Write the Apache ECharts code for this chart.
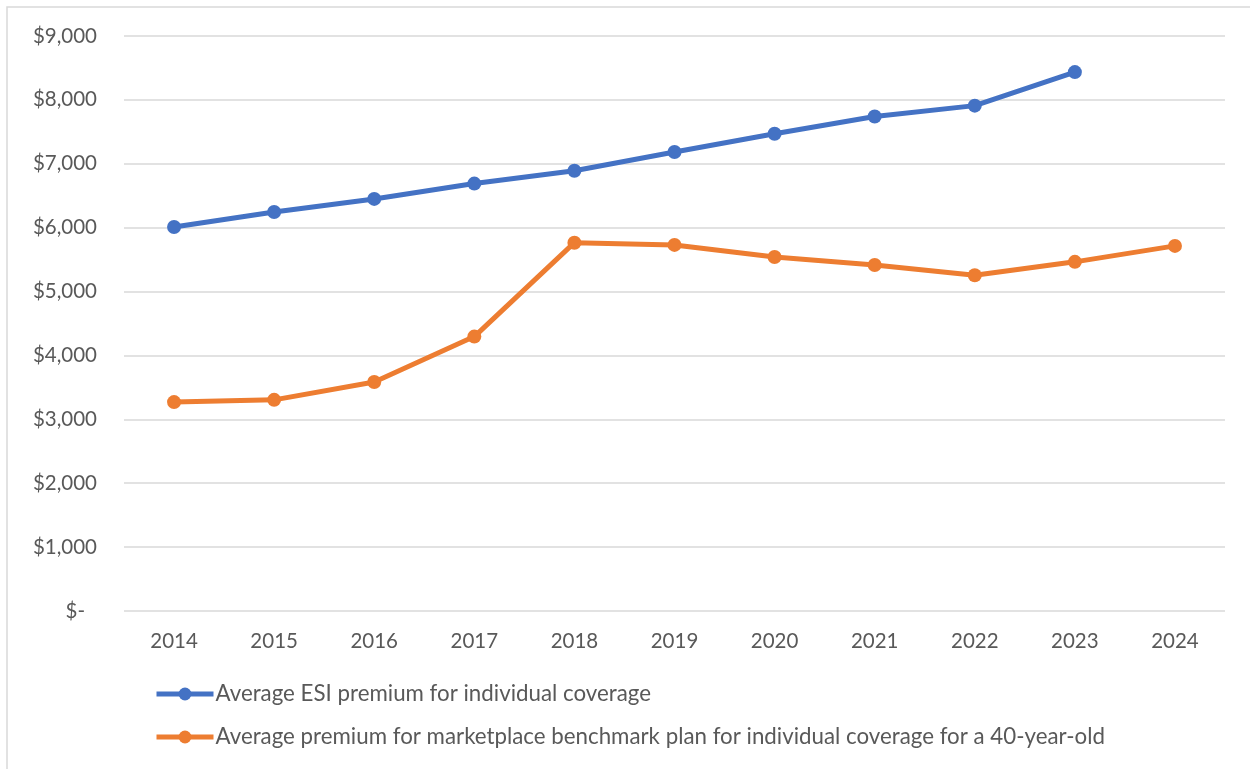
<!DOCTYPE html>
<html><head><meta charset="utf-8">
<script src="https://cdn.jsdelivr.net/npm/echarts@6/dist/echarts.min.js"></script>
<style>html,body{margin:0;padding:0;background:#fff}#c{width:1250px;height:769px}</style>
</head><body><div id="c"></div>
<script>
const years = ['2014','2015','2016','2017','2018','2019','2020','2021','2022','2023','2024'];
const esiPremium = [6010, 6245, 6450, 6690, 6890, 7185, 7470, 7740, 7910, 8435, null];
const marketplacePremium = [3270, 3305, 3585, 4295, 5765, 5730, 5540, 5415, 5255, 5465, 5715];
const seriesNames = ['Average ESI premium for individual coverage','Average premium for marketplace benchmark plan for individual coverage for a 40-year-old'];
const yTicks = {min:0, max:9000, interval:1000};

const chart = echarts.init(document.getElementById('c'));
const font = 'Lato, "Open Sans", sans-serif';
chart.setOption({
  animation:false,
  graphic:[{type:'rect',shape:{x:7,y:7,width:1300,height:800},style:{fill:'none',stroke:'#d9d9d9',lineWidth:1.5},silent:true}],
  grid:{left:124,right:25,top:36,bottom:158},
  xAxis:{type:'category',data:years,boundaryGap:true,
    axisLine:{show:false},axisTick:{show:false},
    axisLabel:{color:'#595959',fontSize:20.5,fontFamily:font,margin:20}},
  yAxis:{type:'value',min:yTicks.min,max:yTicks.max,interval:yTicks.interval,
    axisLine:{show:false},axisTick:{show:false},
    splitLine:{lineStyle:{color:'#d9d9d9',width:1.5}},
    axisLabel:{color:'#595959',fontSize:20.5,fontFamily:font,margin:27,
      formatter:v=> v===0 ? '{z|$-}' : '$'+v.toLocaleString('en-US'),
      rich:{z:{color:'#595959',fontSize:20.5,fontFamily:font,padding:[0,12,0,0]}}}},
  legend:{orient:'vertical',left:149,top:678,itemGap:21,itemWidth:57,itemHeight:16,
    textStyle:{color:'#595959',fontSize:22.3,fontFamily:font,padding:[0,0,0,-3]},
    lineStyle:{width:5},
    data:seriesNames},
  series:[
    {name:seriesNames[0],type:'line',data:esiPremium,color:'#4472C4',
     lineStyle:{width:5},symbol:'circle',symbolSize:14,connectNulls:false},
    {name:seriesNames[1],type:'line',data:marketplacePremium,color:'#ED7D31',
     lineStyle:{width:5},symbol:'circle',symbolSize:14}
  ]
});
</script></body></html>
